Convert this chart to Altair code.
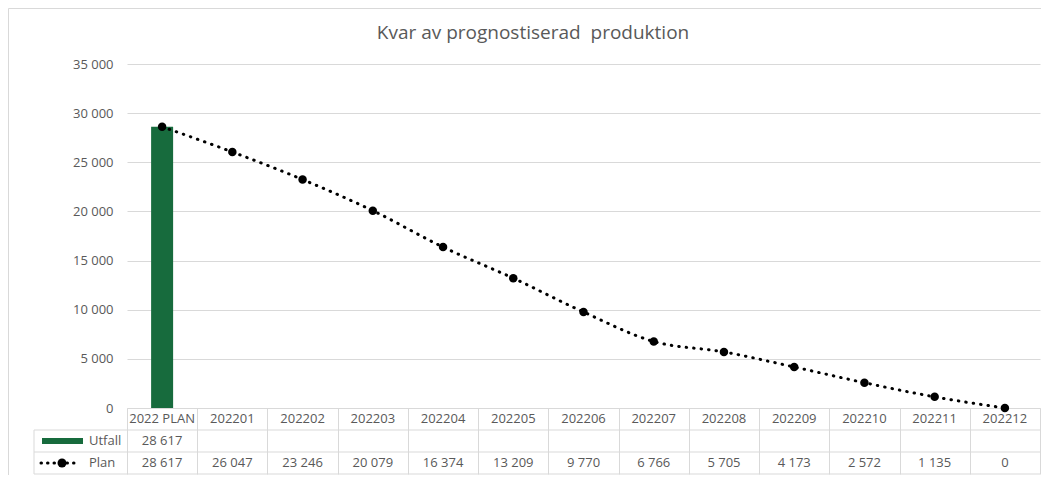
import altair as alt
import pandas as pd

# ---- data ----
categories = ["2022 PLAN", "202201", "202202", "202203", "202204", "202205", "202206",
              "202207", "202208", "202209", "202210", "202211", "202212"]
plan = [28617, 26047, 23246, 20079, 16374, 13209, 9770, 6766, 5705, 4173, 2572, 1135, 0]
utfall = [28617, None, None, None, None, None, None, None, None, None, None, None, None]
y_ticks = [0, 5000, 10000, 15000, 20000, 25000, 30000, 35000]
title_text = "Kvar av prognostiserad\u00a0 produktion"
series_names = ["Utfall", "Plan"]


def fmt(v):
    if v is None:
        return ""
    return f"{v:,}".replace(",", "\u00a0")


df = pd.DataFrame({
    "cat": categories,
    "plan": plan,
    "utfall": utfall,
    "plan_txt": [fmt(v) for v in plan],
    "utfall_txt": [fmt(v) for v in utfall],
})
one = pd.DataFrame({"a": [0]})

W, H = 913, 344
ROW = 22
GREEN = "#176B3D"
GRID = "#d9d9d9"
TXT = "#595959"
FONT = "Open Sans"

xenc = alt.X("cat:N", sort=categories,
             scale=alt.Scale(domain=categories, paddingInner=0, paddingOuter=0),
             axis=alt.Axis(labels=False, ticks=True, tickBand="extent", tickSize=3 * ROW,
                           tickColor=GRID, domainColor=GRID, title=None, grid=False))
yscale = alt.Scale(domain=[0, 35000], nice=False)
yaxis = alt.Axis(values=y_ticks, grid=True, gridColor=GRID, domain=False, ticks=False,
                 labelPadding=14, labelColor=TXT, labelFontSize=13, labelFont=FONT,
                 title=None,
                 labelExpr="replace(format(datum.value, ','), ',', '\u00a0')")

base = alt.Chart(df)

bars = base.transform_filter("datum.utfall != null").mark_bar(size=22, color=GREEN).encode(
    x=xenc, y=alt.Y("utfall:Q", scale=yscale, axis=yaxis))

line = base.mark_line(color="black", strokeWidth=3, strokeDash=[0.5, 7], strokeCap="round",
                      interpolate="monotone").encode(
    x=alt.X("cat:N", sort=categories), y=alt.Y("plan:Q", scale=yscale))

points = base.mark_point(filled=True, shape="circle", size=72, color="black", opacity=1).encode(
    x=alt.X("cat:N", sort=categories), y=alt.Y("plan:Q", scale=yscale))

txt_style = dict(font=FONT, fontSize=13, color=TXT, baseline="middle", align="center")
hdr = base.mark_text(**txt_style).encode(
    x=alt.X("cat:N", sort=categories), text="cat:N", y=alt.value(H + ROW / 2))
row_u = base.mark_text(**txt_style).encode(
    x=alt.X("cat:N", sort=categories), text="utfall_txt:N", y=alt.value(H + ROW * 1.5))
row_p = base.mark_text(**txt_style).encode(
    x=alt.X("cat:N", sort=categories), text="plan_txt:N", y=alt.value(H + ROW * 2.5))

LEFT = -93
hlines = []
for k in (1, 2, 3):
    hlines.append(alt.Chart(one).mark_rule(color=GRID, strokeWidth=1).encode(
        x=alt.value(LEFT), x2=alt.value(W), y=alt.value(H + ROW * k)))
vleft = alt.Chart(one).mark_rule(color=GRID, strokeWidth=1).encode(
    x=alt.value(LEFT), y=alt.value(H + ROW), y2=alt.value(H + ROW * 3))

# legend keys in table
leg_rect = alt.Chart(one).mark_rect(color=GREEN).encode(
    x=alt.value(-85), x2=alt.value(-44),
    y=alt.value(H + ROW * 1.5 - 3), y2=alt.value(H + ROW * 1.5 + 3))
leg_line = alt.Chart(one).mark_rule(color="black", strokeWidth=3, strokeDash=[0.5, 6],
                                    strokeCap="round").encode(
    x=alt.value(-86), x2=alt.value(-48), y=alt.value(H + ROW * 2.5))
leg_pt = alt.Chart(one).mark_point(filled=True, shape="circle", size=80, color="black",
                                   opacity=1).encode(
    x=alt.value(-65), y=alt.value(H + ROW * 2.5))
leg_txt_u = alt.Chart(one).mark_text(font=FONT, fontSize=13, color=TXT, baseline="middle",
                                     align="left").encode(
    x=alt.value(-38), y=alt.value(H + ROW * 1.5), text=alt.value(series_names[0]))
leg_txt_p = alt.Chart(one).mark_text(font=FONT, fontSize=13, color=TXT, baseline="middle",
                                     align="left").encode(
    x=alt.value(-38), y=alt.value(H + ROW * 2.5), text=alt.value(series_names[1]))

title = alt.Chart(one).mark_text(font=FONT, fontSize=19, color=TXT, baseline="middle",
                                 align="center").encode(
    x=alt.value(406), y=alt.value(-31), text=alt.value(title_text))

# outer chart-area border
border_l = alt.Chart(one).mark_rule(color=GRID, strokeWidth=1).encode(
    x=alt.value(-118.5), y=alt.value(-55.5), y2=alt.value(H + 200))
border_t = alt.Chart(one).mark_rule(color=GRID, strokeWidth=1).encode(
    x=alt.value(-118.5), x2=alt.value(W + 50), y=alt.value(-55.5))

chart = alt.layer(
    border_l, border_t,
    bars, *hlines, vleft, hdr, row_u, row_p,
    leg_rect, leg_line, leg_pt, leg_txt_u, leg_txt_p, title,
    line, points,
).properties(
    width=W, height=H,
    autosize=alt.AutoSizeParams(type="none"),
    padding={"left": 119, "top": 56, "right": 1, "bottom": 67},
    background="white",
).configure_view(stroke=None)

chart.save("out.html", embed_options={"renderer": "svg", "actions": False})
